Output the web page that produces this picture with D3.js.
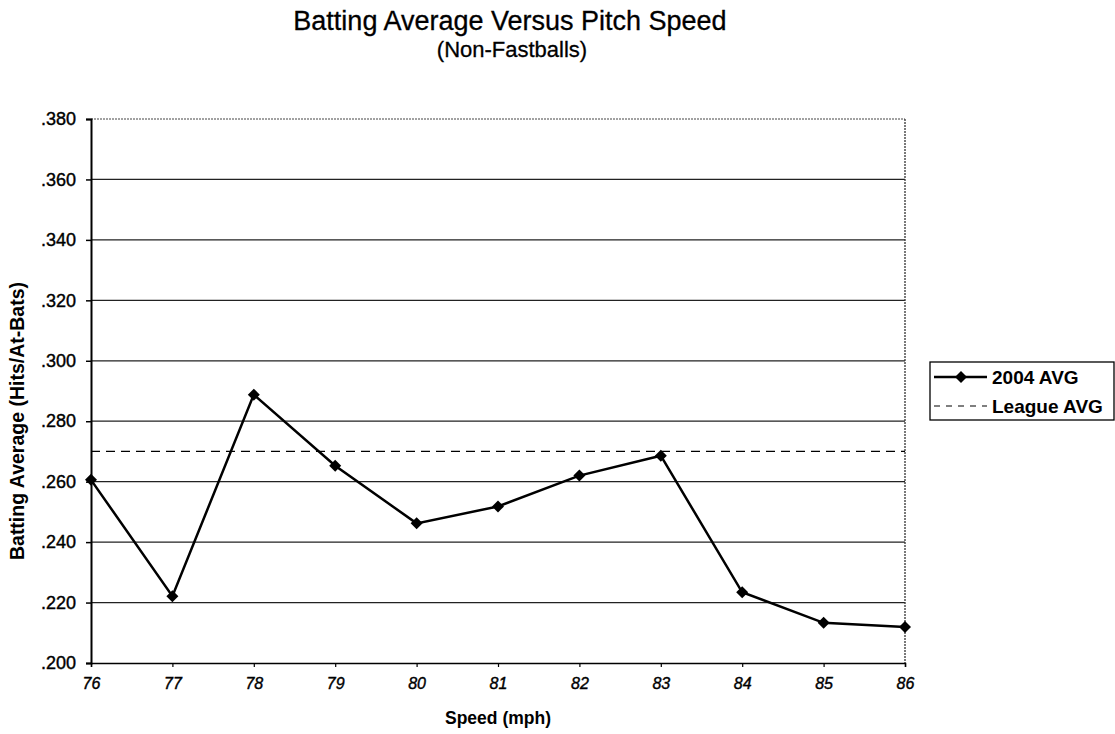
<!DOCTYPE html>
<html>
<head>
<meta charset="utf-8">
<script src="https://cdn.jsdelivr.net/npm/d3@7"></script>
<style>
  html, body { margin: 0; padding: 0; background: #fff; }
  text { font-family: "Liberation Sans", Arial, sans-serif; fill: #000; }
</style>
</head>
<body>
<svg id="chart" width="1115" height="734"></svg>
<script>
// ---- data ----
const speeds = [76, 77, 78, 79, 80, 81, 82, 83, 84, 85, 86];
const avg2004 = [0.2606, 0.2221, 0.2888, 0.2653, 0.2462, 0.2518, 0.2620, 0.2686, 0.2234, 0.2133, 0.2119];
const leagueAvg = [0.270, 0.270, 0.270, 0.270, 0.270, 0.270, 0.270, 0.270, 0.270, 0.270, 0.270];
const yTicks = [0.200, 0.220, 0.240, 0.260, 0.280, 0.300, 0.320, 0.340, 0.360, 0.380];
const seriesNames = ["2004 AVG", "League AVG"];
const titleText = "Batting Average Versus Pitch Speed";
const subtitleText = "(Non-Fastballs)";
const xTitle = "Speed (mph)";
const yTitle = "Batting Average (Hits/At-Bats)";

// ---- layout ----
const svg = d3.select("#chart");
const L = 91, R = 905, T = 119, B = 663;
const FONT = "Liberation Sans, Arial, sans-serif";

const x = d3.scaleLinear().domain([76, 86]).range([L, R]);
const y = d3.scaleLinear().domain([0.200, 0.380]).range([B, T]);
const fmt = v => d3.format(".3f")(v).replace(/^0/, "");

// gridlines
svg.append("g").selectAll("line").data(yTicks.filter(v => v > 0.2 && v < 0.38)).join("line")
  .attr("x1", L).attr("x2", R)
  .attr("y1", d => y(d)).attr("y2", d => y(d))
  .attr("stroke", "#222").attr("stroke-width", 1.3);

// frame top & right
svg.append("line").attr("x1", L).attr("x2", R).attr("y1", T).attr("y2", T)
  .attr("stroke", "#444").attr("stroke-width", 1).attr("stroke-dasharray", "2,1");
svg.append("line").attr("x1", R).attr("x2", R).attr("y1", T).attr("y2", B)
  .attr("stroke", "#333").attr("stroke-width", 1.3).attr("stroke-dasharray", "2,1");

// y axis
const yAxis = d3.axisLeft(y).tickValues(yTicks).tickFormat(fmt).tickSize(5).tickPadding(10);
const gy = svg.append("g").attr("transform", `translate(${L},0)`).call(yAxis);
gy.select(".domain").attr("stroke", "#000").attr("stroke-width", 2);
gy.selectAll(".tick line").attr("stroke", "#000").attr("stroke-width", 1.5);
gy.selectAll(".tick text").attr("font-size", 18).attr("font-family", FONT).attr("fill", "#000")
  .attr("stroke", "#000").attr("stroke-width", 0.4);

// x axis
const xAxis = d3.axisBottom(x).tickValues(speeds).tickFormat(d3.format("d")).tickSize(4).tickPadding(11);
const gx = svg.append("g").attr("transform", `translate(0,${B})`).call(xAxis);
gx.select(".domain").attr("stroke", "#000").attr("stroke-width", 1.5);
gx.selectAll(".tick line").attr("stroke", "#000").attr("stroke-width", 1.2);
gx.selectAll(".tick text").attr("font-size", 16).attr("font-style", "italic")
  .attr("font-family", FONT).attr("fill", "#000").attr("stroke", "#000").attr("stroke-width", 0.4);

// league avg dashed line
const line = d3.line().x((d, i) => x(speeds[i])).y(d => y(d));
svg.append("path").datum(leagueAvg).attr("d", line)
  .attr("fill", "none").attr("stroke", "#000").attr("stroke-width", 1.3)
  .attr("stroke-dasharray", "9,6");

// 2004 series
svg.append("path").datum(avg2004).attr("d", line)
  .attr("fill", "none").attr("stroke", "#000").attr("stroke-width", 2.5);
svg.append("g").selectAll("path").data(avg2004).join("path")
  .attr("d", d3.symbol().type(d3.symbolSquare).size(72))
  .attr("transform", (d, i) => `translate(${x(speeds[i])},${y(d)}) rotate(45)`)
  .attr("fill", "#000");

// titles
svg.append("text").attr("x", 510).attr("y", 30).attr("text-anchor", "middle")
  .attr("font-size", 27).attr("stroke", "#000").attr("stroke-width", 0.3).text(titleText);
svg.append("text").attr("x", 512).attr("y", 57).attr("text-anchor", "middle")
  .attr("font-size", 22).attr("stroke", "#000").attr("stroke-width", 0.3).text(subtitleText);
svg.append("text").attr("x", (L + R) / 2).attr("y", 724).attr("text-anchor", "middle")
  .attr("font-size", 17.5).attr("font-weight", "bold").text(xTitle);
svg.append("text").attr("transform", `translate(24,${(T + B) / 2 + 30}) rotate(-90)`)
  .attr("text-anchor", "middle").attr("font-size", 19.5).attr("font-weight", "bold").text(yTitle);

// legend
const lg = svg.append("g");
lg.append("rect").attr("x", 930).attr("y", 362).attr("width", 184).attr("height", 58)
  .attr("fill", "#fff").attr("stroke", "#000").attr("stroke-width", 1.3);
const rows = [377, 406];
lg.append("line").attr("x1", 934).attr("x2", 987).attr("y1", rows[0]).attr("y2", rows[0])
  .attr("stroke", "#000").attr("stroke-width", 2.5);
lg.append("path").attr("d", d3.symbol().type(d3.symbolSquare).size(72))
  .attr("transform", `translate(961,${rows[0]}) rotate(45)`).attr("fill", "#000");
lg.append("line").attr("x1", 934).attr("x2", 987).attr("y1", rows[1]).attr("y2", rows[1])
  .attr("stroke", "#000").attr("stroke-width", 1.2).attr("stroke-dasharray", "6,6");
lg.selectAll("text.lt").data(seriesNames).join("text").attr("class", "lt")
  .attr("x", 992).attr("y", (d, i) => rows[i] + 7).attr("font-size", 19).attr("font-weight", "bold")
  .text(d => d);
</script>
</body>
</html>
